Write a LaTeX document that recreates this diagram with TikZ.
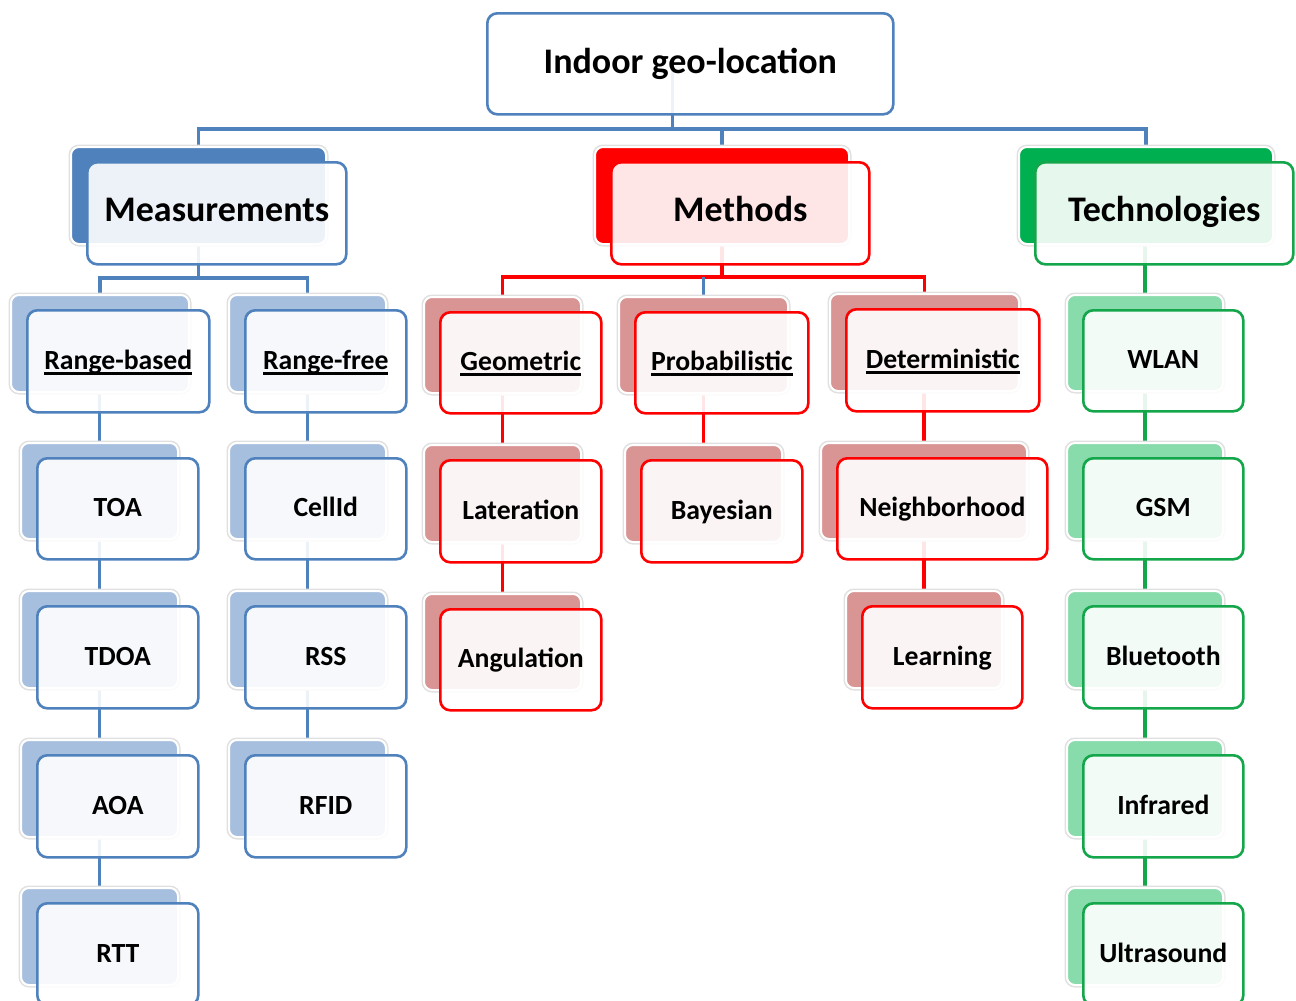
\documentclass[tikz,border=0pt]{standalone}
\usepackage{fontspec}
\setmainfont{Carlito}
\usetikzlibrary{backgrounds,calc}
\definecolor{bline}{HTML}{4F81BD}
\definecolor{bdark}{HTML}{4F81BD}
\definecolor{blight}{HTML}{A7BFDE}
\definecolor{rline}{HTML}{FF0000}
\definecolor{rdark}{HTML}{FF0000}
\definecolor{rlight}{HTML}{D99594}
\definecolor{gline}{HTML}{14A64A}
\definecolor{gdark}{HTML}{00B050}
\definecolor{glight}{HTML}{88DBAA}
\newsavebox\ulbox
\newcommand\myul[1]{\sbox\ulbox{#1}\rlap{\smash{\raisebox{-5.5pt}{\rule{\wd\ulbox}{3pt}}}}\usebox\ulbox}
\newcommand\bigf{\fontsize{36}{42}\selectfont\bfseries}
\newcommand\smf{\fontsize{27.7}{33}\selectfont\bfseries}
\tikzset{
  backbox/.style={rectangle, rounded corners=8pt, anchor=north west, inner sep=0pt,
    preaction={draw=black!12, line width=5pt}, draw=white, line width=2pt},
  frontbox/.style={rectangle, rounded corners=10pt, anchor=north west, inner sep=0pt,
    line width=2.6pt, fill=white, fill opacity=0.9, text opacity=1, align=center,
    font=\smf, text height=23pt, text depth=7pt},
  bigtext/.style={font=\bigf, text height=25pt, text depth=9pt},
  roottext/.style={font=\bigf, text height=29pt, text depth=9pt},
  conn/.style={line width=3.4pt},
}
% #1 name, #2 back colour, #3 line colour, #4 x1, #5 y1, #6 x2, #7 y2, #8 text, #9 extra
\newcommand\tb[9]{%
  \node[backbox, fill=#2, minimum width={#6-#4-4}, minimum height={#7-#5-5}] (#1-b) at (#4-16,#5-15) {};
  \node[frontbox, draw=#3, minimum width={#6-#4}, minimum height={#7-#5}, #9] (#1) at (#4,#5) {#8};}
\begin{document}
\begin{tikzpicture}[x=1pt,y=-1pt]
\useasboundingbox (0,0) rectangle (1296,1001);
% root
\node[frontbox, roottext, draw=bline, minimum width=406, minimum height=101] (root) at (486,12) {Indoor geo-location};
% level 1
\tb{meas}{bdark}{bline}{86}{161}{345}{263}{Measurements}{bigtext}
\tb{meth}{rdark}{rline}{610}{161}{868}{263}{Methods}{bigtext}
\tb{tech}{gdark}{gline}{1034}{161}{1292}{263}{Technologies}{bigtext}
% measurements
\tb{rb}{blight}{bline}{26}{309}{208}{411}{\myul{Range-based}}{}
\tb{rf}{blight}{bline}{244}{309}{405}{411}{\myul{Range-free}}{}
\tb{toa}{blight}{bline}{36}{457}{197}{558}{TOA}{}
\tb{tdoa}{blight}{bline}{36}{605}{197}{707}{TDOA}{}
\tb{aoa}{blight}{bline}{36}{754}{197}{856}{AOA}{}
\tb{rtt}{blight}{bline}{36}{902}{197}{1004}{RTT}{}
\tb{cell}{blight}{bline}{244}{457}{405}{558}{CellId}{}
\tb{rss}{blight}{bline}{244}{605}{405}{707}{RSS}{}
\tb{rfid}{blight}{bline}{244}{754}{405}{856}{RFID}{}
% methods
\tb{geo}{rlight}{rline}{439}{311}{600}{412}{\myul{Geometric}}{}
\tb{prob}{rlight}{rline}{634}{311}{807}{412}{\myul{Probabilistic}}{}
\tb{det}{rlight}{rline}{845}{308}{1038}{410}{\myul{Deterministic}}{}
\tb{lat}{rlight}{rline}{439}{459}{600}{561}{Lateration}{}
\tb{ang}{rlight}{rline}{439}{608}{600}{709}{Angulation}{}
\tb{bay}{rlight}{rline}{640}{459}{801}{561}{Bayesian}{}
\tb{nei}{rlight}{rline}{836}{457}{1046}{558}{Neighborhood}{}
\tb{lea}{rlight}{rline}{861}{605}{1021}{707}{Learning}{}
% technologies
\tb{wlan}{glight}{gline}{1082}{309}{1242}{410}{WLAN}{}
\tb{gsm}{glight}{gline}{1082}{457}{1242}{558}{GSM}{}
\tb{blu}{glight}{gline}{1082}{605}{1242}{707}{Bluetooth}{}
\tb{inf}{glight}{gline}{1082}{754}{1242}{856}{Infrared}{}
\tb{ult}{glight}{gline}{1082}{902}{1242}{1004}{Ultrasound}{}
% connectors
\begin{scope}[on background layer]
  \coordinate (busmid) at ($(meas-b.north)!0.5!(tech-b.north)+(0,-17)$);
  \draw[bline, conn] (meas-b.north) -- ++(0,-17) -| (tech-b.north);
  \draw[bline, conn] (meth-b.north) -- ++(0,-17);
  \draw[bline, conn] (busmid) -- (busmid |- root.center);
  % measurements
  \draw[bline, conn] (meas-b.center) -- ($(meas-b.center |- rb-b.north)+(0,-16)$);
  \draw[bline, conn] (rb-b.north) -- ++(0,-16) -| (rf-b.north);
  \draw[bline, conn] (toa-b.north) -- (toa-b.north |- rb-b.center);
  \draw[bline, conn] (tdoa-b.north) -- (tdoa-b.north |- toa-b.center);
  \draw[bline, conn] (aoa-b.north) -- (aoa-b.north |- tdoa-b.center);
  \draw[bline, conn] (rtt-b.north) -- (rtt-b.north |- aoa-b.center);
  \draw[bline, conn] (cell-b.north) -- (cell-b.north |- rf-b.center);
  \draw[bline, conn] (rss-b.north) -- (rss-b.north |- cell-b.center);
  \draw[bline, conn] (rfid-b.north) -- (rfid-b.north |- rss-b.center);
  % methods
  \draw[rline, conn] (meth-b.center) -- ($(meth-b.center |- geo-b.north)+(0,-19)$);
  \draw[rline, conn] (geo-b.north) -- ++(0,-19) -| (det-b.north);
  \draw[bline, conn] (prob-b.north) -- ++(0,-19);
  \draw[rline, conn] (lat-b.north) -- (lat-b.north |- geo-b.center);
  \draw[rline, conn] (ang-b.north) -- (ang-b.north |- lat-b.center);
  \draw[rline, conn] (bay-b.north) -- (bay-b.north |- prob-b.center);
  \draw[rline, conn] (nei-b.north) -- (nei-b.north |- det-b.center);
  \draw[rline, conn] (lea-b.north) -- (lea-b.north |- nei-b.center);
  % technologies
  \draw[gline, conn] (wlan-b.north) -- (wlan-b.north |- tech-b.center);
  \draw[gline, conn] (gsm-b.north) -- (gsm-b.north |- wlan-b.center);
  \draw[gline, conn] (blu-b.north) -- (blu-b.north |- gsm-b.center);
  \draw[gline, conn] (inf-b.north) -- (inf-b.north |- blu-b.center);
  \draw[gline, conn] (ult-b.north) -- (ult-b.north |- inf-b.center);
\end{scope}
\end{tikzpicture}
\end{document}
